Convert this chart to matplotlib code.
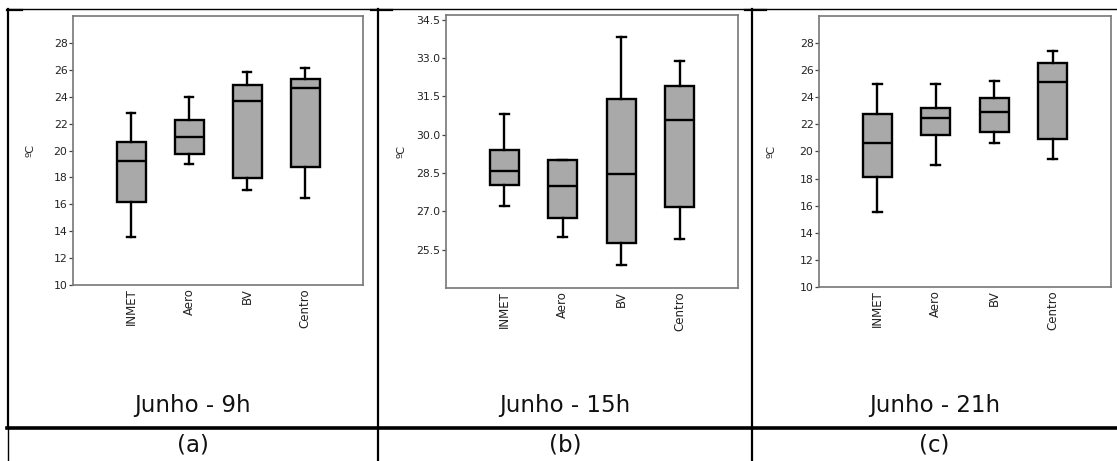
import numpy as np
import matplotlib
matplotlib.use("Agg")
import matplotlib.pyplot as plt
from matplotlib.lines import Line2D

# stations on the x axis
stations = ["INMET", "Aero", "BV", "Centro"]

# box stats per panel: min, q1, median, q3, max
h09_min = [13.6, 19.0, 17.1, 16.5]
h09_q1 = [16.2, 19.75, 17.95, 18.8]
h09_med = [19.2, 21.0, 23.65, 24.65]
h09_q3 = [20.65, 22.25, 24.85, 25.3]
h09_max = [22.8, 24.0, 25.8, 26.1]

h15_min = [27.2, 26.0, 24.9, 25.9]
h15_q1 = [28.02, 26.73, 25.75, 27.17]
h15_med = [28.58, 27.98, 28.45, 30.58]
h15_q3 = [29.4, 29.0, 31.41, 31.92]
h15_max = [30.8, 29.0, 33.8, 32.9]

h21_min = [15.55, 19.0, 20.66, 19.45]
h21_q1 = [18.15, 21.22, 21.42, 20.95]
h21_med = [20.66, 22.5, 22.94, 25.1]
h21_q3 = [22.77, 23.19, 23.97, 26.53]
h21_max = [25.0, 25.0, 25.2, 27.4]

titles = ["Junho - 9h", "Junho - 15h", "Junho - 21h"]
letters = ["(a)", "(b)", "(c)"]

W, H = 1117, 461
fig = plt.figure(figsize=(W / 100, H / 100), dpi=100)


def px_axes(left, right, top, bottom):
    return fig.add_axes([left / W, 1 - bottom / H, (right - left) / W, (bottom - top) / H])


def stats_list(lo, q1, med, q3, hi):
    out = []
    for i in range(len(stations)):
        out.append(dict(whislo=lo[i], q1=q1[i], med=med[i], q3=q3[i], whishi=hi[i], fliers=[]))
    return out


panels = [
    (px_axes(73, 363, 16, 285), stats_list(h09_min, h09_q1, h09_med, h09_q3, h09_max),
     (10, 30), np.arange(10, 29, 2), "%d", -0.128),
    (px_axes(446, 738, 15, 288), stats_list(h15_min, h15_q1, h15_med, h15_q3, h15_max),
     (24.0, 34.68), np.arange(25.5, 34.6, 1.5), "%.1f", -0.134),
    (px_axes(819, 1111, 16, 287), stats_list(h21_min, h21_q1, h21_med, h21_q3, h21_max),
     (10, 30), np.arange(10, 29, 2), "%d", -0.144),
]

line_kw = dict(color="black", linewidth=1.7)
for ax, st, ylim, yt, fmt, lab_x in panels:
    ax.bxp(st, positions=[1, 2, 3, 4], widths=0.5, capwidths=0.15, patch_artist=True,
           showfliers=False,
           boxprops=dict(facecolor="#a9a9a9", edgecolor="black", linewidth=1.7),
           medianprops=line_kw, whiskerprops=line_kw, capprops=line_kw)
    ax.set_xlim(0, 5)
    ax.set_ylim(*ylim)
    ax.set_yticks(yt)
    ax.set_yticklabels([fmt % v for v in yt])
    ax.set_xticks([1, 2, 3, 4])
    ax.set_xticklabels(stations, rotation=90, fontsize=8.5, color="#222222")
    ax.tick_params(axis="x", length=0, pad=2.5)
    ax.tick_params(axis="y", length=3, width=0.9, color="#444444", pad=1, labelsize=7.8,
                   labelcolor="#222222")
    for s in ax.spines.values():
        s.set_color("#777777")
        s.set_linewidth(1.2)
    ax.set_ylabel("ºC", fontsize=8, color="#222222")
    ax.yaxis.set_label_coords(lab_x, 0.5)

# table-style frame around the panels
lines = [
    ([7, W], [9.5, 9.5], 1.0),
    ([7, W], [427.5, 427.5], 2.6),
    ([7.5, 7.5], [9.5, 428], 1.6),
    ([7.5, 7.5], [428, H], 1.0),
    ([378, 378], [9.5, H], 1.6),
    ([752, 752], [9.5, H], 1.6),
    ([7, 22], [10.5, 10.5], 1.6),
    ([371, 392], [10.5, 10.5], 1.6),
    ([745, 766], [10.5, 10.5], 1.6),
]
for xs, ys, lw in lines:
    fig.add_artist(Line2D([x / W for x in xs], [1 - y / H for y in ys], color="black",
                          linewidth=lw, transform=fig.transFigure))

col_edges = [7.5, 378, 752, W]
for i in range(3):
    cx = (col_edges[i] + col_edges[i + 1]) / 2 / W
    fig.text(cx, 1 - 405 / H, titles[i], ha="center", va="center", fontsize=16.5, color="#111111")
    fig.text(cx, 1 - 445 / H, letters[i], ha="center", va="center", fontsize=16.5, color="#111111")

fig.savefig("out.png", dpi=100)
